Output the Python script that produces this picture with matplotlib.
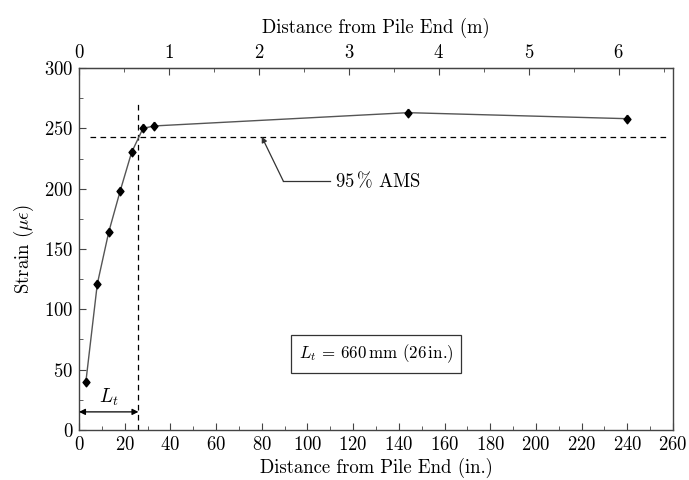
import matplotlib
matplotlib.use("Agg")
import matplotlib.pyplot as plt
from matplotlib.ticker import MultipleLocator

plt.rcParams["font.family"] = ["cmr10", "DejaVu Serif"]
plt.rcParams["mathtext.fontset"] = "cm"
plt.rcParams["axes.formatter.use_mathtext"] = True
plt.rcParams["font.size"] = 13.5

# Strain profile along the pile (distance in inches, strain in microstrain)
distance_in = [3, 8, 13, 18, 23, 28, 33, 144, 240]
strain_ue = [40, 121, 164, 198, 230, 250, 252, 263, 258]

ams95 = 243          # 95 % average maximum strain
ams95_span = [5, 258]
lt_in = 26           # transfer length
lt_top = 271
lt_arrow_y = 15

x_ticks = list(range(0, 261, 20))
y_ticks = list(range(0, 301, 50))
m_ticks = list(range(0, 7))
IN_PER_M = 39.37

fig = plt.figure(figsize=(6.89, 4.80), dpi=100)
ax = fig.add_axes([0.1147, 0.1042, 0.862, 0.7541])

edge = "#444444"
for s in ax.spines.values():
    s.set_color(edge)
    s.set_linewidth(1.0)

diamond = [(0, 1), (0.8, 0), (0, -1), (-0.8, 0), (0, 1)]
ax.plot(distance_in, strain_ue, color="#555555", lw=1.0, zorder=3)
ax.plot(distance_in, strain_ue, ls="none", marker=diamond, ms=6.2,
        color="black", zorder=4)

ax.plot(ams95_span, [ams95, ams95], color="black", lw=0.9, ls=(0, (4.5, 3.5)))
ax.plot([lt_in, lt_in], [0, lt_top], color="black", lw=0.9, ls=(0, (4.5, 3.5)))

ax.annotate("", xy=(0, lt_arrow_y), xytext=(lt_in, lt_arrow_y),
            arrowprops=dict(arrowstyle="<|-|>", color="black", lw=0.9,
                            shrinkA=0, shrinkB=0, mutation_scale=9))
ax.text(lt_in / 2, 27, r"$L_t$", ha="center", va="center", fontsize=14)

# Leader for the 95 % AMS line: horizontal run from the label, then a slanted arrow
ax.plot([110, 89.5], [206, 206], color="#333333", lw=0.9)
ax.annotate("", xy=(80, ams95), xytext=(89.5, 206),
            arrowprops=dict(arrowstyle="-|>", color="#333333", lw=0.9,
                            shrinkA=0, shrinkB=0, mutation_scale=8))
ax.text(112, 206, r"95$\,$% AMS", ha="left", va="center", fontsize=13.5)

ax.text(130, 63, r"$L_t$ = 660$\,$mm (26$\,$in.)", ha="center",
        va="center", fontsize=12.2,
        bbox=dict(boxstyle="square,pad=0.45", fc="white", ec="#333333", lw=0.9))

ax.set_xlim(0, 260)
ax.set_ylim(0, 300)
ax.set_xticks(x_ticks)
ax.set_yticks(y_ticks)
ax.xaxis.set_minor_locator(MultipleLocator(10))
ax.yaxis.set_minor_locator(MultipleLocator(25))
ax.tick_params(which="both", direction="in", color=edge, top=False, right=False)
ax.tick_params(which="major", length=5, pad=4)
ax.tick_params(which="minor", length=3)
ax.set_xlabel("Distance from Pile End (in.)", labelpad=3)
ax.set_ylabel(r"Strain ($\mu\epsilon$)", labelpad=6)

top = ax.secondary_xaxis("top", functions=(lambda x: x / IN_PER_M,
                                           lambda m: m * IN_PER_M))
top.set_xticks(m_ticks)
top.xaxis.set_minor_locator(MultipleLocator(0.5))
top.tick_params(which="both", direction="in", color=edge)
top.tick_params(which="major", length=5, pad=4)
top.tick_params(which="minor", length=3)
top.spines["top"].set_color(edge)
top.set_xlabel("Distance from Pile End (m)", labelpad=8)

fig.savefig("out.png", dpi=100)
